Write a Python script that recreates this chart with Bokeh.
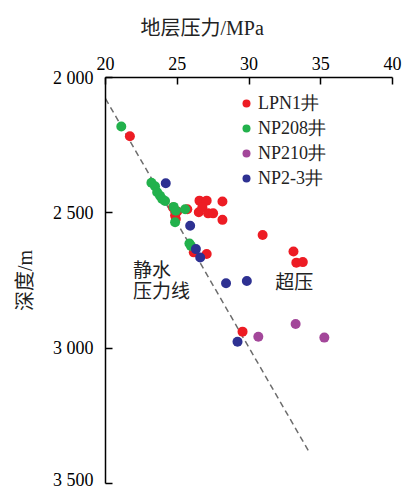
from bokeh.plotting import figure
from bokeh.models import (Range1d, FixedTicker, Legend, LegendItem, Label, Title)
from bokeh.embed import file_html
from bokeh.resources import INLINE

# ---- data ----
lpn1_p = [21.7, 24.7, 25.0, 24.9, 24.85, 25.7, 26.55, 27.05, 28.15, 26.5, 26.75,
          27.15, 27.5, 28.15, 30.95, 26.15, 27.05, 33.1, 33.3, 33.75, 29.55]
lpn1_d = [2217, 2480, 2495, 2523, 2510, 2487, 2455, 2455, 2458, 2498, 2479,
          2502, 2502, 2526, 2582, 2646, 2652, 2643, 2684, 2682, 2939]

np208_p = [21.1, 23.2, 23.45, 23.6, 23.8, 23.95, 24.15, 24.75, 24.9, 25.55, 24.85, 25.85, 25.95]
np208_d = [2181, 2389, 2402, 2424, 2437, 2449, 2456, 2478, 2492, 2487, 2535, 2613, 2622]

np210_p = [30.65, 33.25, 35.25]
np210_d = [2958, 2911, 2961]

np23_p = [24.2, 25.9, 26.3, 26.6, 28.4, 29.85, 29.2]
np23_d = [2391, 2548, 2634, 2665, 2760, 2752, 2976]

hydro_p = [20.0, 34.15]
hydro_d = [2078, 3380]

x_ticks = [20, 25, 30, 35, 40]
y_ticks = [2000, 2500, 3000, 3500]
y_tick_labels = ["2 000", "2 500", "3 000", "3 500"]

series_names = ["LPN1井", "NP208井", "NP210井", "NP2-3井"]
colors = ["#ED1C24", "#22B14C", "#A3479A", "#2E3192"]

SERIF = "Liberation Serif"
MIX = "Liberation Serif, Noto Sans CJK SC"
CJK = "Noto Sans CJK SC"

p = figure(width=406, height=489, output_backend="svg", toolbar_location=None,
           x_range=Range1d(20, 40), y_range=Range1d(3500, 2000),
           x_axis_location="above",
           min_border_left=105, min_border_right=14,
           min_border_top=77, min_border_bottom=6)
p.outline_line_color = None
p.xgrid.visible = False
p.ygrid.visible = False
p.background_fill_color = "white"
p.border_fill_color = "white"

for ax in (p.xaxis[0], p.yaxis[0]):
    ax.major_tick_in = 7
    ax.major_tick_out = 0
    ax.minor_tick_line_color = None
    ax.axis_line_color = "black"
    ax.axis_line_width = 1.5
    ax.major_tick_line_color = "black"
    ax.major_tick_line_width = 1.5
    ax.major_label_text_font = SERIF
    ax.major_label_text_font_size = "18px"
    ax.major_label_text_color = "black"

p.xaxis[0].ticker = FixedTicker(ticks=x_ticks)
p.xaxis[0].major_label_standoff = 8

p.yaxis[0].ticker = FixedTicker(ticks=y_ticks)
p.yaxis[0].major_label_overrides = {t: s for t, s in zip(y_ticks, y_tick_labels)}
p.yaxis[0].major_label_standoff = 12
p.yaxis[0].axis_label = "深度/m"
p.yaxis[0].axis_label_text_font = MIX
p.yaxis[0].axis_label_text_font_size = "20px"
p.yaxis[0].axis_label_text_font_style = "normal"
p.yaxis[0].axis_label_text_color = "#222222"
p.yaxis[0].axis_label_standoff = 14

# title above the top axis, shifted left as in the reference
title = Title(text="地层压力/MPa", align="left", offset=35, standoff=29,
              text_font=MIX, text_font_size="20px", text_font_style="normal",
              text_color="#222222")
p.add_layout(title, "above")

# hydrostatic line
p.line(hydro_p, hydro_d, line_dash="6 4", line_color="#6d6d6d", line_width=1.5)

r1 = p.scatter(lpn1_p, lpn1_d, size=10, fill_color=colors[0], line_color=None)
r2 = p.scatter(np208_p, np208_d, size=10, fill_color=colors[1], line_color=None)
r3 = p.scatter(np210_p, np210_d, size=10, fill_color=colors[2], line_color=None)
r4 = p.scatter(np23_p, np23_d, size=10, fill_color=colors[3], line_color=None)

legend = Legend(items=[LegendItem(label=n, renderers=[r]) for n, r in
                       zip(series_names, [r1, r2, r3, r4])],
                location=(131, 293), padding=0, margin=0,
                border_line_color=None, background_fill_alpha=0,
                glyph_width=20, glyph_height=22, label_height=22,
                spacing=1, label_standoff=2,
                label_text_font=SERIF, label_text_font_size="18px",
                label_text_color="#222222")
p.add_layout(legend)

# annotations
p.add_layout(Label(x=21.92, y=2707, text="静水", text_font=CJK, text_font_size="19px",
                   text_align="left", text_baseline="middle", text_color="#222222"))
p.add_layout(Label(x=21.92, y=2784, text="压力线", text_font=CJK, text_font_size="19px",
                   text_align="left", text_baseline="middle", text_color="#222222"))
p.add_layout(Label(x=33.15, y=2751, text="超压", text_font=CJK, text_font_size="19px",
                   text_align="center", text_baseline="middle", text_color="#222222"))

open("out.html", "w").write(file_html(p, INLINE))
